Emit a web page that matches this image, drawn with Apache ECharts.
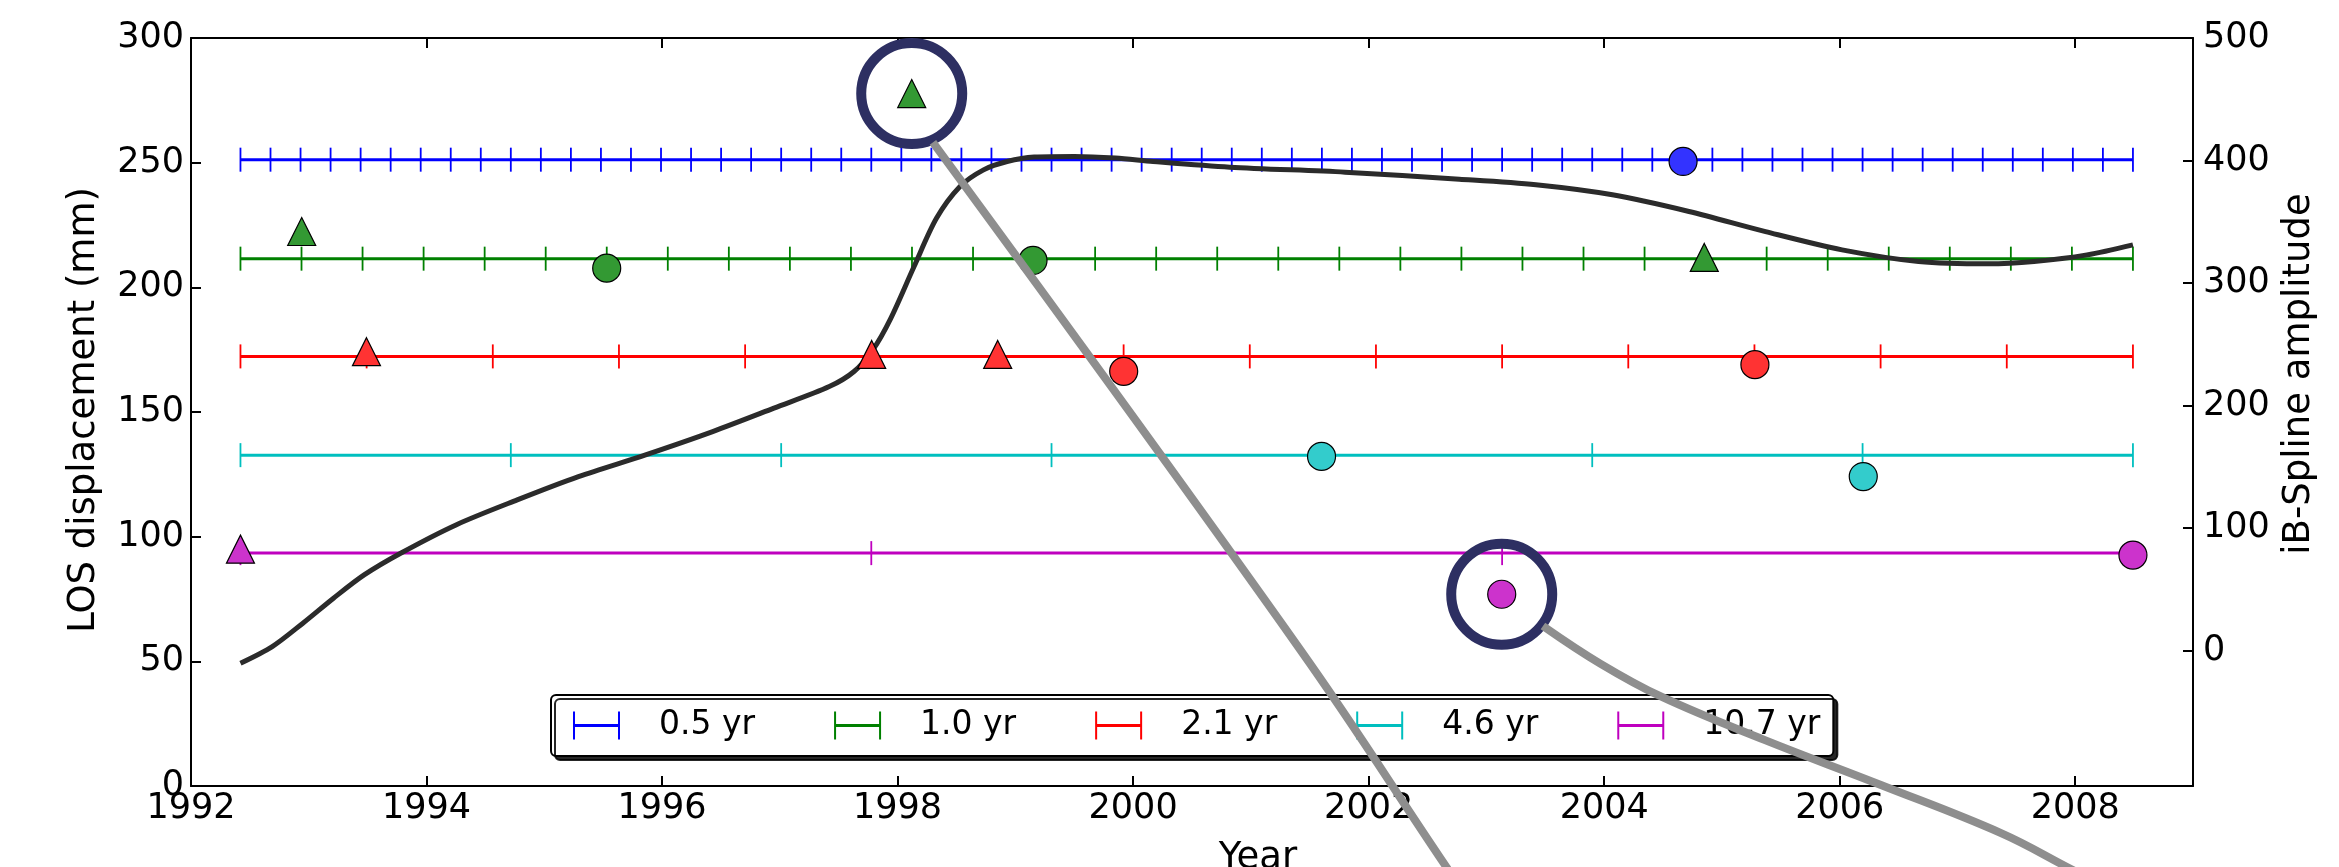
<!DOCTYPE html>
<html>
<head>
<meta charset="utf-8">
<script src="https://cdn.jsdelivr.net/npm/echarts@6/dist/echarts.min.js"></script>
<style>
html,body{margin:0;padding:0;background:#fff;}
#chart{width:2339px;height:867px;}
</style>
</head>
<body>
<div id="chart"></div>
<script>
// ---------------- data ----------------
const periods = ['0.5 yr', '1.0 yr', '2.1 yr', '4.6 yr', '10.7 yr'];
const periodColors = ['#0000ff', '#008000', '#ff0000', '#00bfbf', '#bf00bf'];
const markerColors = ['#3333ff', '#339933', '#ff3333', '#33cccc', '#cc33cc'];
// horizontal bar of each period: level (mm), start / end year, number of sampling marks
const barLevels = [251.2, 211.5, 172.3, 132.7, 93.4];
const barStartYear = 1992.42;
const barEndYear = 2008.49;
const barMarkCounts = [64, 32, 16, 8, 4];
// triangles and circles [year, LOS displacement mm] per period
const trianglePts = [
  [],
  [[1992.94, 222.4], [1998.12, 277.7], [2004.85, 212.0]],
  [[1993.49, 174.2], [1997.78, 173.1], [1998.85, 173.1]],
  [],
  [[1992.42, 95.0]]
];
const circlePts = [
  [[2004.67, 250.5]],
  [[1995.53, 207.7], [1999.15, 210.8]],
  [[1999.92, 166.3], [2005.28, 169.0]],
  [[2001.60, 132.2], [2006.20, 124.1]],
  [[2003.13, 76.9], [2008.49, 92.6]]
];
// iB-Spline amplitude curve (right axis)
const splineYears = [1992.42, 1992.69, 1992.95, 1993.21, 1993.47, 1993.78, 1994.25, 1994.77, 1995.29, 1995.86,
  1996.43, 1996.95, 1997.42, 1997.63, 1997.79, 1997.94, 1998.14, 1998.33, 1998.53, 1998.73, 1998.93, 1999.16,
  1999.50, 1999.85, 2000.17, 2000.82, 2001.80, 2002.77, 2003.42, 2004.07, 2004.72, 2005.37, 2006.02, 2006.67,
  2007.26, 2007.65, 2008.10, 2008.49];
const splineAmp = [-10.3, 3.3, 22.4, 42.8, 61.8, 79.5, 102.6, 123.0, 142.0, 159.8,
  178.8, 197.9, 215.5, 227.8, 245.5, 270.8, 313.5, 352.8, 378.8, 392.4, 399.2, 402.8,
  403.3, 402.0, 399.2, 394.6, 390.5, 384.8, 380.2, 372.0, 358.4, 342.0, 327.1, 317.6,
  315.7, 317.6, 323.0, 331.2];
// highlighted points and their pointer lines [year, mm]
const highlightPts = [[1998.12, 277.7], [2003.13, 76.9]];
const pointer1 = [[1998.30, 258.1], [2001.42, 54.6], [2002.66, -32.5], [2002.74, -37.7]];
const pointer2 = [[2003.48, 64.2], [2003.97, 49.0], [2004.49, 35.7], [2005.36, 18.5], [2006.35, 0.4], [2007.37, -18.9], [2007.93, -32.5], [2008.14, -37.7]];
// axis ticks
const xTicks = [1992, 1994, 1996, 1998, 2000, 2002, 2004, 2006, 2008];
const leftTicks = [0, 50, 100, 150, 200, 250, 300];
const rightTicks = [0, 100, 200, 300, 400, 500];

// ---------------- chart ----------------
const FONT = '"DejaVu Sans", sans-serif';
const chart = echarts.init(document.getElementById('chart'), null, {renderer: 'canvas'});

function renderBar(params, api) {
  const s = api.value(0), e = api.value(1), lvl = api.value(2), n = api.value(3);
  const color = api.visual('color');
  const p0 = api.coord([s, lvl]);
  const p1 = api.coord([e, lvl]);
  const children = [{
    type: 'line', shape: {x1: p0[0], y1: p0[1], x2: p1[0], y2: p1[1]},
    style: {stroke: color, lineWidth: 3}
  }];
  for (let k = 0; k < n; k++) {
    const p = api.coord([s + (e - s) * k / (n - 1), lvl]);
    children.push({
      type: 'line', shape: {x1: p[0], y1: p[1] - 12, x2: p[0], y2: p[1] + 12},
      style: {stroke: color, lineWidth: 1.8}
    });
  }
  return {type: 'group', children: children};
}

const legendIcon = 'path://M0,0h2v28h-2z M2,12.5h43v3h-43z M45,0h2v28h-2z';

const series = [];
periods.forEach((name, i) => {
  series.push({
    name: name, type: 'custom', renderItem: renderBar, z: 2,
    itemStyle: {color: periodColors[i]},
    encode: {x: [0, 1], y: 2},
    data: [[barStartYear, barEndYear, barLevels[i], barMarkCounts[i]]],
    silent: true
  });
});
series.push({
  name: 'iB-Spline', type: 'line', xAxisIndex: 0, yAxisIndex: 1, z: 3,
  data: splineYears.map((y, i) => [y, splineAmp[i]]),
  smooth: 0.3, showSymbol: false,
  lineStyle: {color: '#2b2b2b', width: 5}, silent: true
});
periods.forEach((name, i) => {
  series.push({
    name: name + ' tri', type: 'scatter', z: 4, symbol: 'triangle', symbolSize: 28,
    itemStyle: {color: markerColors[i], borderColor: '#000', borderWidth: 1.2, opacity: 1},
    data: trianglePts[i], silent: true
  });
  series.push({
    name: name + ' circ', type: 'scatter', z: 4, symbol: 'circle', symbolSize: 28,
    itemStyle: {color: markerColors[i], borderColor: '#000', borderWidth: 1.2, opacity: 1},
    data: circlePts[i], silent: true
  });
});
series.push({
  name: 'highlight', type: 'scatter', z: 8, symbol: 'circle', symbolSize: 101,
  itemStyle: {color: 'rgba(0,0,0,0)', borderColor: '#2d2f62', borderWidth: 10, opacity: 1},
  data: highlightPts, silent: true
});
[pointer1, pointer2].forEach((pts, k) => {
  series.push({
    name: 'pointer' + k, type: 'line', z: 9, clip: false, showSymbol: false, smooth: 0.4,
    lineStyle: {color: '#8e8e8e', width: 8, cap: 'butt'},
    data: pts, silent: true
  });
});

const axisLineStyle = {color: '#000', width: 2};
const labelStyle = {color: '#000', fontSize: 35, fontFamily: FONT, formatter: v => String(v)};

chart.setOption({
  animation: false,
  backgroundColor: '#fff',
  grid: {left: 191, top: 38, width: 2002, height: 748, containLabel: false},
  legend: {
    data: periods.map(n => ({name: n, icon: legendIcon})),
    left: 551, top: 695, orient: 'horizontal',
    itemWidth: 47, itemHeight: 28, itemGap: 79,
    padding: [14, 13, 14, 22],
    textStyle: {color: '#000', fontSize: 33, fontFamily: FONT, padding: [0, 0, 0, 34]},
    backgroundColor: '#fff', borderColor: '#000', borderWidth: 2, borderRadius: 5,
    shadowColor: 'rgba(0,0,0,0.85)', shadowOffsetX: 4, shadowOffsetY: 4, shadowBlur: 0,
    selectedMode: false
  },
  xAxis: [{
    type: 'value', min: 1992, max: 2009, position: 'bottom',
    axisLine: {show: true, onZero: false, lineStyle: axisLineStyle},
    axisTick: {show: true, inside: true, length: 10, lineStyle: {color: '#000', width: 2}, customValues: xTicks},
    axisLabel: Object.assign({margin: 5, customValues: xTicks}, labelStyle),
    splitLine: {show: false}
  }, {
    type: 'value', min: 1992, max: 2009, position: 'top',
    axisLine: {show: true, onZero: false, lineStyle: axisLineStyle},
    axisTick: {show: true, inside: true, length: 10, lineStyle: {color: '#000', width: 2}, customValues: xTicks},
    axisLabel: {show: false},
    splitLine: {show: false}
  }],
  yAxis: [{
    type: 'value', min: 0, max: 300, interval: 50, position: 'left',
    axisLine: {show: true, onZero: false, lineStyle: axisLineStyle},
    axisTick: {show: true, inside: true, length: 10, lineStyle: {color: '#000', width: 2}, customValues: leftTicks},
    axisLabel: Object.assign({margin: 7, customValues: leftTicks}, labelStyle),
    splitLine: {show: false}
  }, {
    type: 'value', min: -110.5, max: 500, position: 'right',
    axisLine: {show: true, onZero: false, lineStyle: axisLineStyle},
    axisTick: {show: true, inside: true, length: 10, lineStyle: {color: '#000', width: 2}, customValues: rightTicks},
    axisLabel: Object.assign({margin: 10, customValues: rightTicks}, labelStyle),
    splitLine: {show: false}
  }],
  graphic: [
    {type: 'text', x: 84, y: 410, rotation: Math.PI / 2,
      style: {text: 'LOS displacement (mm)', fill: '#000', font: '37px ' + FONT, align: 'center', verticalAlign: 'middle'}},
    {type: 'text', x: 2299, y: 374, rotation: Math.PI / 2,
      style: {text: 'iB-Spline amplitude', fill: '#000', font: '37px ' + FONT, align: 'center', verticalAlign: 'middle'}},
    {type: 'text', x: 1258, y: 858,
      style: {text: 'Year', fill: '#000', font: '37px ' + FONT, align: 'center', verticalAlign: 'middle'}}
  ],
  series: series
});
</script>
</body>
</html>
